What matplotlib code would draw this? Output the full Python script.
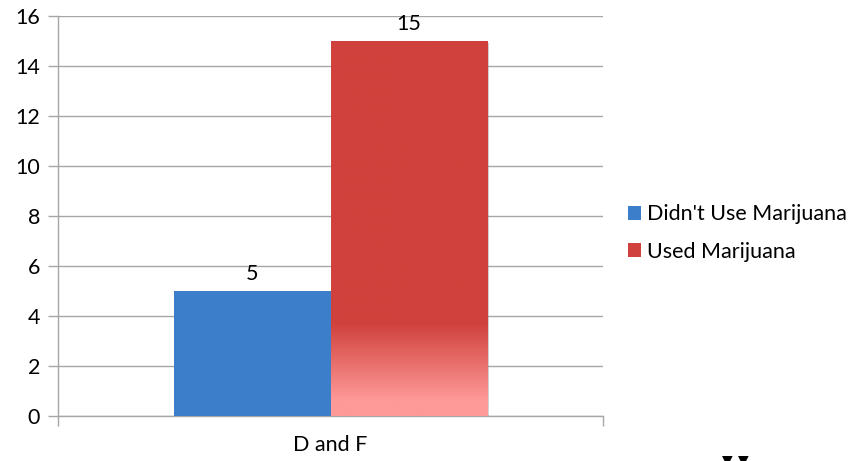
import numpy as np
import matplotlib
matplotlib.use("Agg")
import matplotlib.pyplot as plt
from matplotlib.patches import Patch
from matplotlib.colors import to_rgb
import matplotlib.patheffects as pe

categories = ["D and F"]
series_names = ["Didn't Use Marijuana", "Used Marijuana"]
didnt_use = [5]
used = [15]
y_ticks = [0, 2, 4, 6, 8, 10, 12, 14, 16]

BLUE = "#3D7ECB"
RED = "#D0413D"
PINK = "#FE9A98"
GRID = "#A6A6A6"
FONT = ["Lato", "DejaVu Sans"]
FS = 15.5

plt.rcParams["font.family"] = FONT

fig = plt.figure(figsize=(8.56, 4.61), dpi=100)
ax = fig.add_axes([58 / 856, 1 - 416 / 461, (603 - 58) / 856, 400 / 461])

x = np.arange(len(categories))
w = 0.287
shadow = [pe.SimplePatchShadow(offset=(1.5, -1.5), shadow_rgbFace="#808080", alpha=0.35), pe.Normal()]
b1 = ax.bar(x - w / 2, didnt_use, width=w, color=BLUE, zorder=3, path_effects=shadow)
b2 = ax.bar(x + w / 2, used, width=w, color=RED, zorder=3, path_effects=shadow)

# gradient on the lower part of the red bar
for rect in b2:
    x0, y0 = rect.get_x(), rect.get_y()
    bw, bh = rect.get_width(), rect.get_height()
    yy = np.linspace(y0, y0 + bh, 400)
    t = np.clip((yy - 0.6) / (3.7 - 0.6), 0, 1)[:, None]
    c0, c1 = np.array(to_rgb(PINK)), np.array(to_rgb(RED))
    img = (c0 * (1 - t) + c1 * t)[:, None, :]
    im = ax.imshow(img, extent=[x0, x0 + bw, y0, y0 + bh], origin="lower",
                   aspect="auto", zorder=3.5, interpolation="bilinear")
    im.set_clip_path(rect)

for bars, vals in ((b1, didnt_use), (b2, used)):
    for rect, v in zip(bars, vals):
        ax.annotate(f"{v}", (rect.get_x() + rect.get_width() / 2, v),
                    xytext=(0, 5), textcoords="offset points",
                    ha="center", va="bottom", fontsize=FS, color="#000000")

ax.set_xlim(-0.5, 0.5)
ax.set_ylim(0, 16)
ax.set_yticks(y_ticks)
ax.set_yticklabels([str(t) for t in y_ticks], fontsize=FS)
ax.set_xticks(x)
ax.set_xticklabels(categories, fontsize=FS)
ax.set_xticks([-0.5, 0.5], minor=True)
ax.tick_params(axis="x", which="major", length=0, pad=14)
ax.tick_params(axis="x", which="minor", length=7, color=GRID, width=1)
ax.tick_params(axis="y", length=7, color=GRID, width=1, pad=6)
ax.grid(axis="y", color=GRID, linewidth=1, zorder=0)
ax.set_axisbelow(True)
for s in ("top", "right"):
    ax.spines[s].set_visible(False)
for s in ("left", "bottom"):
    ax.spines[s].set_color(GRID)
    ax.spines[s].set_linewidth(1)

handles = [Patch(facecolor=BLUE), Patch(facecolor=RED)]
fig.legend(handles, series_names, loc="center left",
           bbox_to_anchor=(619 / 856, 1 - 233 / 461), frameon=False,
           fontsize=FS, handlelength=0.6, handleheight=0.6,
           handletextpad=0.3, labelspacing=0.8, borderaxespad=0)

for xm in (727, 743.5):
    fig.text(xm / 856, 1 - 466 / 461, "▼", fontsize=10, ha="center", va="bottom", color="black")

fig.savefig("out.png", dpi=100)
